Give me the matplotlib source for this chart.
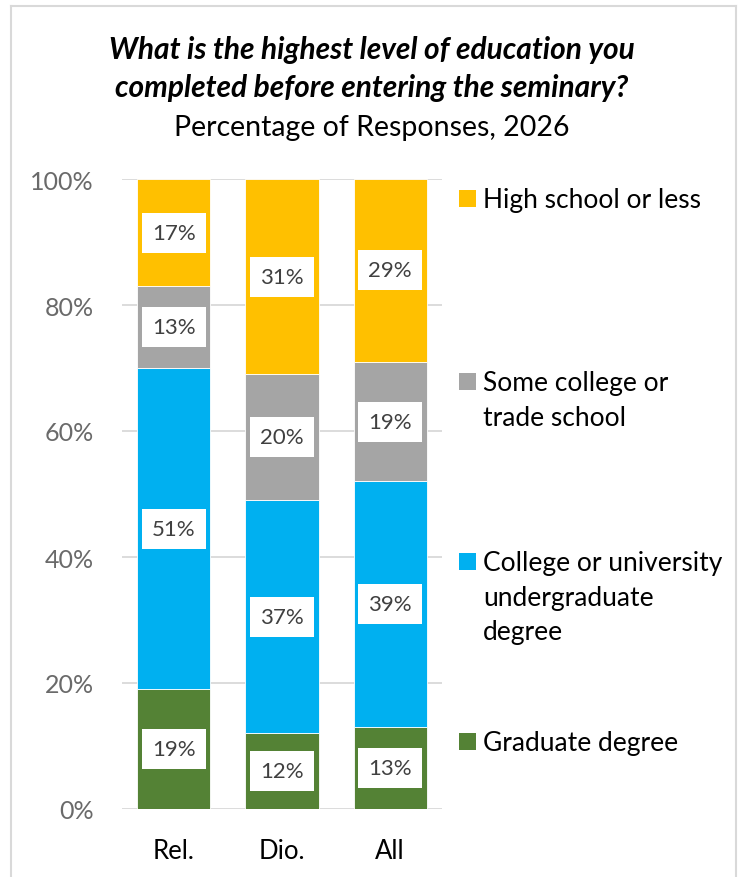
import matplotlib
matplotlib.use("Agg")
import matplotlib.pyplot as plt
from matplotlib.patches import Rectangle
import numpy as np

plt.rcParams['font.family'] = ['Lato', 'DejaVu Sans']

categories = ["Rel.", "Dio.", "All"]
series_names = ["Graduate degree", "College or university\nundergraduate\ndegree",
                "Some college or\ntrade school", "High school or less"]
graduate = [19, 12, 13]
undergrad = [51, 37, 39]
some_college = [13, 20, 19]
high_school = [17, 31, 29]
series_values = [graduate, undergrad, some_college, high_school]
colors = ["#548235", "#00B0F0", "#A5A5A5", "#FFC000"]
yticks = [0, 20, 40, 60, 80, 100]

W, H = 740, 878
fig = plt.figure(figsize=(W / 100, H / 100), dpi=100)
ax = fig.add_axes([122 / W, 1 - 810 / H, 320 / W, 630 / H])

x = np.arange(len(categories))
bottom = np.zeros(len(categories))
for vals, col in zip(series_values, colors):
    vals = np.array(vals, dtype=float)
    ax.bar(x, vals, bottom=bottom, width=0.676, color=col, edgecolor='white',
           linewidth=0.6, zorder=3)
    for xi, b, v in zip(x, bottom, vals):
        ax.text(xi, b + v / 2, f"{int(v)}%", ha='center', va='center', fontsize=16,
                color='#404040', zorder=5,
                bbox=dict(boxstyle='square,pad=0.45', facecolor='white', edgecolor='none'))
    bottom += vals

ax.set_xlim(-0.48, 2.48)
ax.set_ylim(0, 100)
ax.set_yticks(yticks)
ax.set_yticklabels([f"{t}%" for t in yticks], fontsize=18, color='#6a6a6a')
ax.set_xticks(x)
ax.set_xticklabels(categories, fontsize=18.5, color='black')
ax.tick_params(axis='both', length=0)
ax.tick_params(axis='y', pad=20.5)
ax.tick_params(axis='x', pad=21)
ax.grid(axis='y', color='#d9d9d9', linewidth=1.3, zorder=0)
for s in ax.spines.values():
    s.set_visible(False)

# Title
fig.text(372 / W, 1 - 50 / H, "What is the highest level of education you",
         ha='center', va='center', fontsize=21.5, fontweight='bold', fontstyle='italic')
fig.text(372 / W, 1 - 88 / H, "completed before entering the seminary?",
         ha='center', va='center', fontsize=21.5, fontweight='bold', fontstyle='italic')
fig.text(372 / W, 1 - 128 / H, "Percentage of Responses, 2026",
         ha='center', va='center', fontsize=20.5)

# Legend (manual, Excel-style)
legend_y = [743, 563, 383, 200]
line_h = 34.5
for name, col, ly in zip(series_names, colors, legend_y):
    fig.patches.append(Rectangle((459 / W, 1 - (ly + 8) / H), 17 / W, 17 / H,
                                 transform=fig.transFigure, facecolor=col, edgecolor='none'))
    for i, line in enumerate(name.split("\n")):
        fig.text(483 / W, 1 - (ly + 1 + i * line_h) / H, line, ha='left', va='center',
                 fontsize=19, color='black')

# Outer border (no visible bottom edge)
bl, br, bt = 11 / W, 736 / W, 1 - 7 / H
fig.add_artist(plt.Line2D([bl, bl], [0, bt], transform=fig.transFigure, color='#d9d9d9', lw=1.5))
fig.add_artist(plt.Line2D([br, br], [0, bt], transform=fig.transFigure, color='#d9d9d9', lw=1.5))
fig.add_artist(plt.Line2D([bl, br], [bt, bt], transform=fig.transFigure, color='#d9d9d9', lw=1.5))

fig.savefig("out.png", dpi=100)
